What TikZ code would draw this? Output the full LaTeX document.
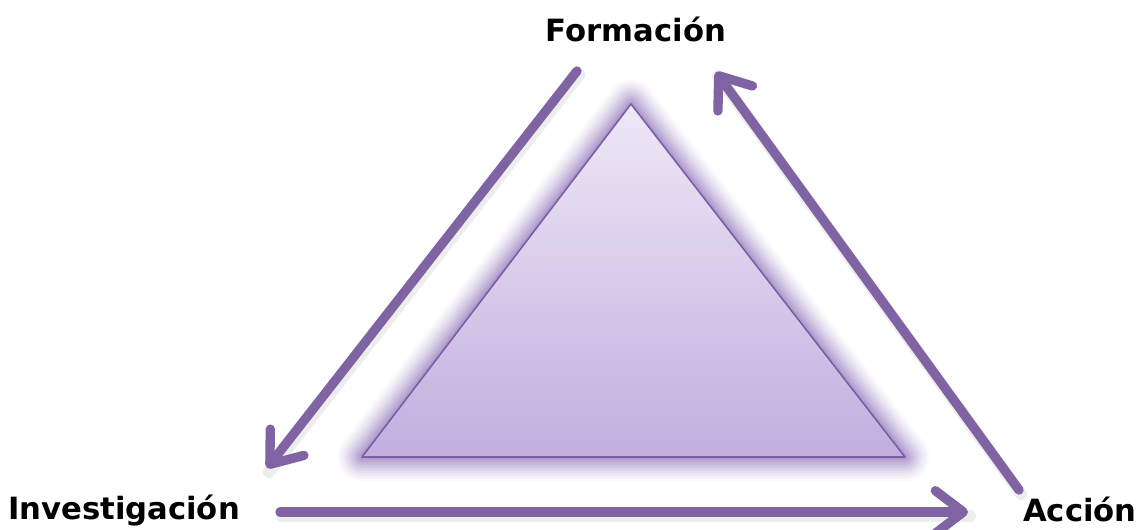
\documentclass[tikz,border=0pt]{standalone}
\usepackage{fontspec}
\setmainfont{DejaVu Sans}
\usetikzlibrary{arrows.meta}
\definecolor{arrowpurple}{HTML}{7F63A3}
\definecolor{edgepurple}{HTML}{7A5FA6}
\definecolor{glowpurple}{HTML}{8E72B8}
\definecolor{topfill}{HTML}{EEE8F6}
\definecolor{botfill}{HTML}{C2AEDF}
\tikzset{
  label/.style={font=\bfseries\fontsize{23}{25}\selectfont, text=black, inner sep=0pt},
  cyclearrow/.style={draw=arrowpurple, line width=7pt, line cap=round, line join=round,
     -{Straight Barb[length=21pt, width=32pt, line width=7pt, round]}},
  arrowshadow/.style={draw=black, opacity=0.07, line width=9pt, line cap=round},
  glow/.style={draw=glowpurple, line join=round}
}
\begin{document}
\begin{tikzpicture}[x=0.75pt,y=-0.75pt]
\useasboundingbox (0,0) rectangle (1146,529);
% labels
\node[label] (form) at (636,29) {Formación};
\node[label] (inv) at (124,511) {Investigación};
\node[label] (acc) at (1080,509) {Acción};
% triangle corners
\coordinate (tA) at (631,104);
\coordinate (tL) at (362,457);
\coordinate (tR) at (905,457);
% glow
\foreach \w/\o in {36/0.05,32/0.06,28/0.07,24/0.09,20/0.11,16/0.13,12/0.16,8/0.2,4/0.25}{
  \draw[glow, line width=\w pt, opacity=\o] (tA) -- (tL) -- (tR) -- cycle;
}
\shade[top color=topfill, bottom color=botfill] (tA) -- (tL) -- (tR) -- cycle;
\draw[draw=edgepurple, line width=1.2pt, line join=round] (tA) -- (tL) -- (tR) -- cycle;
% arrow endpoints
\coordinate (a1s) at (577,71);
\coordinate (a1e) at (267,468);
\coordinate (a2s) at (280,512);
\coordinate (a2e) at (968,512);
\coordinate (a3s) at (1019,490);
\coordinate (a3e) at (716,72);
% shadows
\foreach \s/\e in {a1s/a1e,a2s/a2e,a3s/a3e}{
  \draw[arrowshadow] ([shift={(2,4)}]\s) -- ([shift={(2,4)}]\e);
}
% arrows
\draw[cyclearrow] (a1s) -- (a1e);
\draw[cyclearrow] (a2s) -- (a2e);
\draw[cyclearrow] (a3s) -- (a3e);
\end{tikzpicture}
\end{document}
